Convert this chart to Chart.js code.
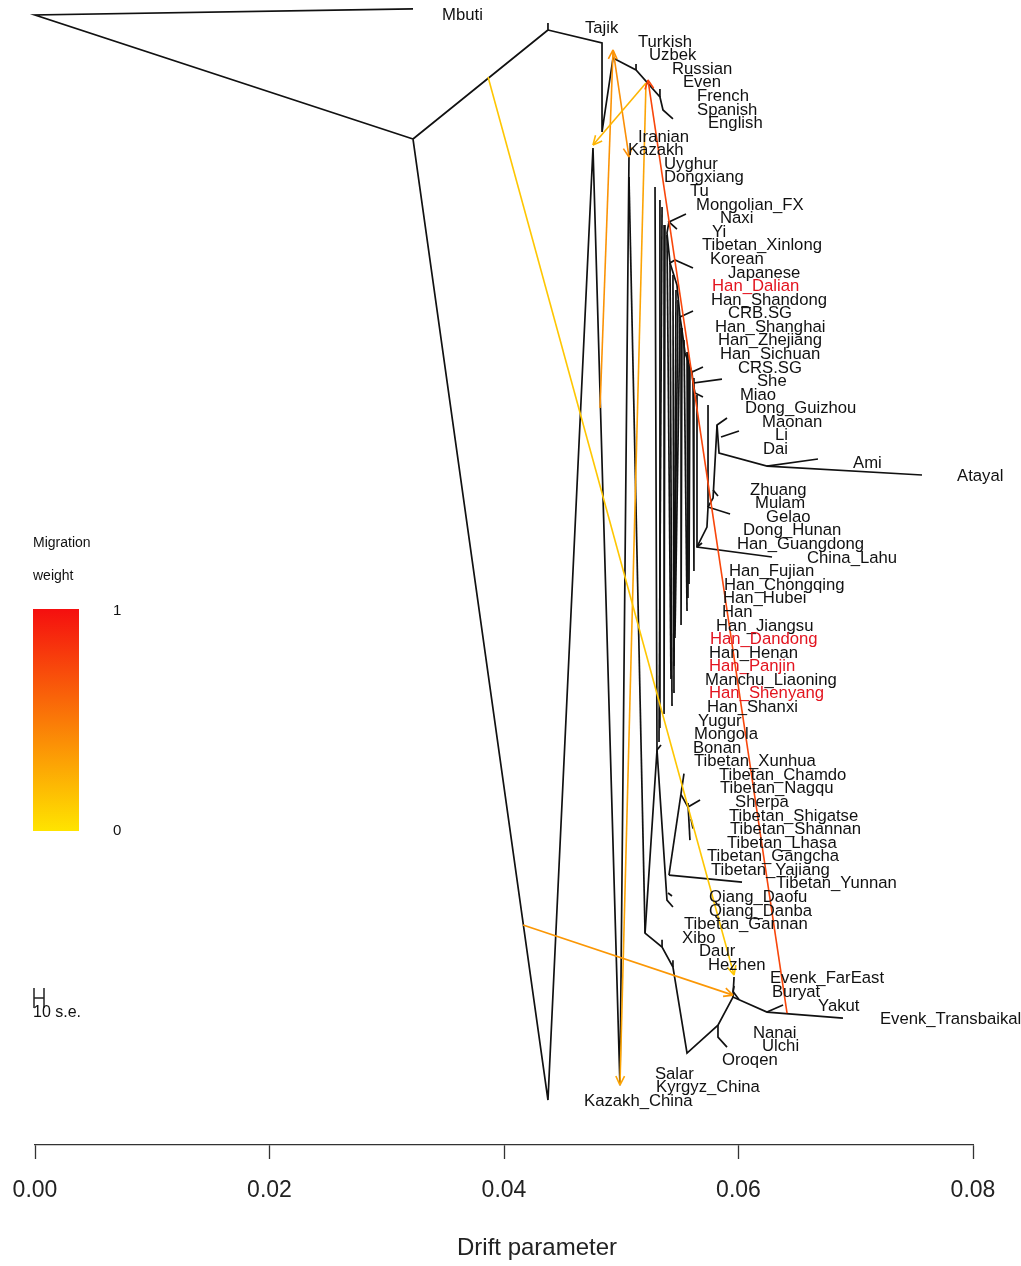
<!DOCTYPE html>
<html>
<head>
<meta charset="utf-8">
<title>TreeMix drift tree</title>
<script src="https://cdn.jsdelivr.net/npm/chart.js@4.4.1/dist/chart.umd.min.js"></script>
<style>
  html, body { margin: 0; padding: 0; background: #fff; }
  canvas { display: block; }
</style>
</head>
<body>
<canvas id="tree" width="1021" height="1266"></canvas>
<script>
// populations, top to bottom (their rank on the y axis is the index)
const popNames = [
  'Mbuti', 'Tajik', 'Turkish', 'Uzbek', 'Russian', 'Even', 'French', 'Spanish', 'English',
  'Iranian', 'Kazakh', 'Uyghur', 'Dongxiang', 'Tu', 'Mongolian_FX', 'Naxi', 'Yi',
  'Tibetan_Xinlong', 'Korean', 'Japanese', 'Han_Dalian', 'Han_Shandong', 'CRB.SG',
  'Han_Shanghai', 'Han_Zhejiang', 'Han_Sichuan', 'CRS.SG', 'She', 'Miao', 'Dong_Guizhou',
  'Maonan', 'Li', 'Dai', 'Ami', 'Atayal', 'Zhuang', 'Mulam', 'Gelao', 'Dong_Hunan',
  'Han_Guangdong', 'China_Lahu', 'Han_Fujian', 'Han_Chongqing', 'Han_Hubei', 'Han',
  'Han_Jiangsu', 'Han_Dandong', 'Han_Henan', 'Han_Panjin', 'Manchu_Liaoning',
  'Han_Shenyang', 'Han_Shanxi', 'Yugur', 'Mongola', 'Bonan', 'Tibetan_Xunhua',
  'Tibetan_Chamdo', 'Tibetan_Nagqu', 'Sherpa', 'Tibetan_Shigatse', 'Tibetan_Shannan',
  'Tibetan_Lhasa', 'Tibetan_Gangcha', 'Tibetan_Yajiang', 'Tibetan_Yunnan', 'Qiang_Daofu',
  'Qiang_Danba', 'Tibetan_Gannan', 'Xibo', 'Daur', 'Hezhen', 'Evenk_FarEast', 'Buryat',
  'Yakut', 'Evenk_Transbaikal', 'Nanai', 'Ulchi', 'Oroqen', 'Salar', 'Kyrgyz_China',
  'Kazakh_China'
];

// drift of each leaf tip
const popDrift = [
  0.03173, 0.04392, 0.04844, 0.04938, 0.05134, 0.05228, 0.05348, 0.05348, 0.05441,
  0.04844, 0.04759, 0.05066, 0.05066, 0.05288, 0.05339, 0.05544, 0.05476,
  0.0539, 0.05458, 0.05612, 0.05476, 0.05467, 0.05612,
  0.05501, 0.05527, 0.05544, 0.05697, 0.05859, 0.05714, 0.05757,
  0.05902, 0.06013, 0.0591, 0.06678, 0.07565, 0.058, 0.05842, 0.05936, 0.0574,
  0.05689, 0.06286, 0.0562, 0.05578, 0.05569, 0.05561,
  0.0551, 0.05458, 0.0545, 0.0545, 0.05416,
  0.0545, 0.05433, 0.05356, 0.05322, 0.05313, 0.05322,
  0.05535, 0.05544, 0.05672, 0.0562, 0.05629,
  0.05603, 0.05433, 0.05467, 0.06021, 0.0545,
  0.0545, 0.05237, 0.0522, 0.05365, 0.05441, 0.0597, 0.05987,
  0.0638, 0.06908, 0.05825, 0.05902, 0.05561, 0.04989, 0.04998,
  0.04384
];

const highlighted = ['Han_Dalian', 'Han_Dandong', 'Han_Panjin', 'Han_Shenyang'];

// tree edges as polylines of [drift, rank]
const treeEdges = [
  [[0.03224, -0.37], [0, 0.07], [0.03224, 9.21]],
  [[0.03224, 9.21], [0.04375, 1.18], [0.04375, 0.66]],
  [[0.04375, 1.18], [0.04836, 2.14], [0.04836, 8.69], [0.0493, 3.24], [0.05126, 4.13],
   [0.0533, 6.11], [0.05356, 7.07], [0.05441, 7.73]],
  [[0.05126, 4.13], [0.05126, 3.68]],
  [[0.0533, 6.11], [0.0533, 5.52]],
  [[0.03224, 9.21], [0.04375, 80.0], [0.04759, 9.87], [0.04989, 78.9], [0.05066, 10.53]],
  [[0.05066, 12.01], [0.05203, 67.7]],
  // northern branch down to the Siberian groups
  [[0.05288, 12.74], [0.05305, 54.22], [0.05203, 67.7], [0.05348, 68.73], [0.05441, 70.2],
   [0.05561, 76.54], [0.05825, 74.48], [0.05953, 72.41], [0.06243, 73.52], [0.06891, 73.96]],
  [[0.05305, 54.22], [0.05339, 53.85]],
  [[0.05348, 68.73], [0.05348, 68.2]],
  [[0.05441, 70.2], [0.05441, 69.7]],
  [[0.05825, 74.48], [0.05825, 75.36], [0.05902, 76.1]],
  [[0.05953, 72.41], [0.05962, 70.94]],
  [[0.05962, 71.6], [0.05953, 72.0], [0.06004, 72.6]],
  [[0.06243, 73.52], [0.0638, 73.0]],
  // Tibetan group
  [[0.05305, 54.22], [0.0539, 65.27], [0.05441, 65.78]],
  [[0.05407, 63.43], [0.05535, 55.95]],
  [[0.05407, 63.43], [0.0603, 63.94]],
  [[0.05399, 64.75], [0.05433, 64.97]],
  [[0.0551, 57.5], [0.05569, 58.42], [0.05672, 57.9]],
  [[0.05569, 58.12], [0.05586, 60.85]],
  [[0.05595, 59.3], [0.05612, 60.0]],
  // long near-vertical Han / northern Chinese tips
  [[0.0533, 13.7], [0.0533, 52.6]],
  [[0.05348, 14.22], [0.05322, 53.63]],
  [[0.05373, 15.54], [0.05365, 51.57]],
  [[0.0539, 16.28], [0.05424, 48.99]],
  [[0.05416, 18.34], [0.05433, 50.98]],
  [[0.05441, 19.23], [0.0545, 50.02]],
  [[0.05467, 20.33], [0.0545, 48.03]],
  [[0.05484, 21.07], [0.0545, 47.0]],
  [[0.05501, 22.32], [0.05458, 45.97]],
  [[0.05518, 23.13], [0.0551, 45.01]],
  [[0.05535, 24.01], [0.05561, 43.98]],
  [[0.05561, 24.9], [0.05569, 43.02]],
  [[0.05586, 25.86], [0.05578, 41.99]],
  [[0.05612, 26.81], [0.0562, 41.03]],
  [[0.05646, 28.07], [0.05646, 39.26], [0.06286, 40.0]],
  [[0.05646, 39.26], [0.05689, 38.97]],
  [[0.05646, 39.26], [0.05731, 37.79], [0.0574, 36.32], [0.05928, 36.83]],
  [[0.0574, 36.32], [0.0574, 28.8]],
  [[0.0574, 36.32], [0.05783, 35.65], [0.05817, 30.28], [0.05902, 29.76]],
  [[0.05817, 30.28], [0.05834, 32.34], [0.06243, 33.3], [0.06678, 32.78]],
  [[0.06243, 33.3], [0.07565, 33.96]],
  [[0.05851, 31.16], [0.06004, 30.72]],
  [[0.05783, 35.06], [0.05825, 35.51]],
  // southern backbone
  [[0.05552, 14.73], [0.05407, 15.32], [0.05475, 15.84]],
  [[0.05407, 15.32], [0.0539, 16.13], [0.05416, 18.34], [0.05458, 18.12], [0.05612, 18.71]],
  [[0.05416, 18.34], [0.05475, 19.96], [0.05501, 22.32], [0.05612, 21.88]],
  [[0.05501, 22.32], [0.05518, 23.28], [0.05544, 24.97], [0.05603, 26.37], [0.05697, 26.0]],
  [[0.05603, 26.37], [0.05612, 27.18], [0.05859, 26.89]],
  [[0.05612, 27.18], [0.05629, 27.92], [0.05697, 28.21]]
];

// migration edges: source, target, weight
const migFrom = [[0.03864, 4.64], [0.04162, 67.11], [0.06414, 73.59], [0.05211, 5.08],
                 [0.05211, 5.08], [0.04819, 29.02], [0.0493, 2.65]];
const migTo = [[0.05962, 70.79], [0.05953, 72.27], [0.05228, 4.86], [0.04759, 9.65],
               [0.04989, 78.9], [0.0493, 2.65], [0.05066, 10.53]];
const migWeight = [0.14, 0.36, 0.74, 0.22, 0.3, 0.38, 0.4];

const driftTicks = [0, 0.02, 0.04, 0.06, 0.08];

const FONT = '"Liberation Sans", Arial, sans-serif';
const LOW = [255, 228, 0];
const HIGH = [245, 15, 15];
const migColor = (w) =>
  `rgb(${LOW.map((c, i) => Math.round(c + (HIGH[i] - c) * w)).join(',')})`;

const pts = (line) => line.map(([x, y]) => ({ x, y }));

const datasets = [
  ...treeEdges.map((line) => ({
    data: pts(line),
    showLine: true,
    borderColor: '#111',
    borderWidth: 1.7,
    pointRadius: 0,
    clip: false,
    order: 2,
  })),
  ...migFrom.map((from, i) => ({
    data: pts([from, migTo[i]]),
    showLine: true,
    borderColor: migColor(migWeight[i]),
    borderWidth: 1.6,
    pointRadius: 0,
    clip: false,
    order: 1,
    arrow: true,
  })),
  {
    data: popDrift.map((x, i) => ({ x, y: i })),
    showLine: false,
    pointRadius: 0,
    order: 3,
    tips: true,
  },
];

const decorations = {
  id: 'decorations',
  afterDatasetsDraw(chart) {
    const { ctx } = chart;
    ctx.save();

    // arrow heads at migration targets
    chart.data.datasets.forEach((ds, i) => {
      if (!ds.arrow) return;
      const [a, b] = chart.getDatasetMeta(i).data;
      const ang = Math.atan2(b.y - a.y, b.x - a.x);
      ctx.strokeStyle = ds.borderColor;
      ctx.lineWidth = 1.6;
      ctx.beginPath();
      [-0.45, 0.45].forEach((d) => {
        ctx.moveTo(b.x, b.y);
        ctx.lineTo(b.x - 10 * Math.cos(ang + d), b.y - 10 * Math.sin(ang + d));
      });
      ctx.stroke();
    });

    // population names
    const tipIdx = chart.data.datasets.findIndex((d) => d.tips);
    ctx.font = `16.7px ${FONT}`;
    ctx.textAlign = 'left';
    ctx.textBaseline = 'middle';
    chart.getDatasetMeta(tipIdx).data.forEach((p, i) => {
      ctx.fillStyle = highlighted.includes(popNames[i]) ? '#e3141f' : '#111';
      ctx.fillText(popNames[i], p.x + 35, p.y + 1);
    });

    // migration weight key
    ctx.fillStyle = '#111';
    ctx.font = `14px ${FONT}`;
    ctx.fillText('Migration', 33, 543);
    ctx.fillText('weight', 33, 576);
    const g = ctx.createLinearGradient(0, 609, 0, 831);
    g.addColorStop(0, migColor(1));
    g.addColorStop(1, migColor(0));
    ctx.fillStyle = g;
    ctx.fillRect(33, 609, 46, 222);
    ctx.fillStyle = '#111';
    ctx.font = `15px ${FONT}`;
    ctx.fillText('1', 113, 611);
    ctx.fillText('0', 113, 831);

    // standard error bar
    ctx.strokeStyle = '#222';
    ctx.lineWidth = 1.5;
    ctx.beginPath();
    ctx.moveTo(34, 988); ctx.lineTo(34, 1008);
    ctx.moveTo(44, 988); ctx.lineTo(44, 1008);
    ctx.moveTo(34, 998); ctx.lineTo(44, 998);
    ctx.stroke();
    ctx.font = `16px ${FONT}`;
    ctx.fillText('10 s.e.', 33, 1013);

    // axis title, centred on the full plot region as in the original
    ctx.fillStyle = '#222';
    ctx.font = `24px ${FONT}`;
    ctx.textAlign = 'center';
    ctx.fillText('Drift parameter', 537, 1248);

    ctx.restore();
  },
};

new Chart(document.getElementById('tree'), {
  type: 'scatter',
  data: { datasets },
  options: {
    responsive: false,
    animation: false,
    devicePixelRatio: 1,
    events: [],
    layout: { padding: { left: 35, right: 48, top: 0, bottom: 0 } },
    scales: {
      x: {
        type: 'linear',
        min: 0,
        max: 0.08,
        afterBuildTicks: (s) => {
          s.ticks = driftTicks.map((value) => ({ value }));
        },
        afterFit: (s) => {
          s.height = 121;
          s.paddingLeft = 0;
          s.paddingRight = 0;
        },
        grid: {
          drawOnChartArea: false,
          drawTicks: true,
          tickLength: 14,
          tickColor: '#333',
          tickWidth: 1.3,
        },
        border: { display: true, color: '#333', width: 1.3 },
        ticks: {
          font: { size: 23, family: FONT },
          color: '#222',
          padding: 18,
          maxRotation: 0,
          autoSkip: false,
          callback: (v) => Number(v).toFixed(2),
        },
        title: { display: false },
      },
      y: { type: 'linear', display: false, reverse: true, min: -1.03, max: 83.31 },
    },
    plugins: { legend: { display: false }, tooltip: { enabled: false } },
  },
  plugins: [decorations],
});
</script>
</body>
</html>
